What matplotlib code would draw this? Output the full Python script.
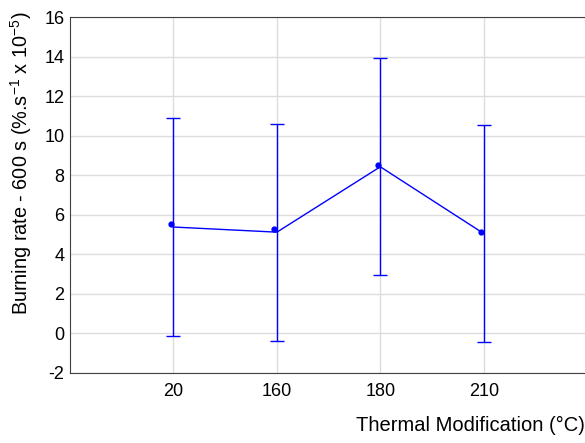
import matplotlib
matplotlib.use("Agg")
from matplotlib import pyplot as plt

# data
temps = ["20", "160", "180", "210"]
means = [5.38, 5.12, 8.43, 5.05]
errors = [5.5, 5.49, 5.5, 5.48]
points = [5.52, 5.27, 8.51, 5.13]

plt.rcParams["font.family"] = ["Liberation Sans", "DejaVu Sans"]
plt.rcParams["mathtext.fontset"] = "custom"
plt.rcParams["mathtext.rm"] = "Liberation Sans"
plt.rcParams["mathtext.it"] = "Liberation Sans"
plt.rcParams["axes.unicode_minus"] = False

fig = plt.figure(figsize=(5.85, 4.43), dpi=100)
ax = fig.add_axes([0.1197, 0.1585, 0.884, 0.8025])

x = list(range(1, len(temps) + 1))
ax.errorbar(x, means, yerr=errors, color="#0000ff", lw=1, capsize=5,
            capthick=1, zorder=3)
ax.plot([i - 0.025 for i in x], points, "o", color="#0000ff", ms=3.5, zorder=4)

ax.set_xlim(0, 5)
ax.set_ylim(-2, 16)
ax.set_xticks(x)
ax.set_xticklabels(temps)
ax.set_yticks(range(-2, 17, 2))
ax.grid(True, color="#dcdcdc", lw=1)
ax.set_axisbelow(True)
ax.tick_params(length=0, labelsize=13)
ax.tick_params(axis="x", pad=7)
ax.tick_params(axis="y", pad=4)
for s in ax.spines.values():
    s.set_color("#404040")

ax.set_xlabel("Thermal Modification (°C)", fontsize=14.5, ha="right")
ax.xaxis.set_label_coords(0.995, -0.12)
ax.set_ylabel("Burning rate - 600 s (%.s$^{-1}$ x 10$^{-5}$)", fontsize=14.3)
ax.yaxis.set_label_coords(-0.07, 0.59)

fig.savefig("out.png", dpi=100)
